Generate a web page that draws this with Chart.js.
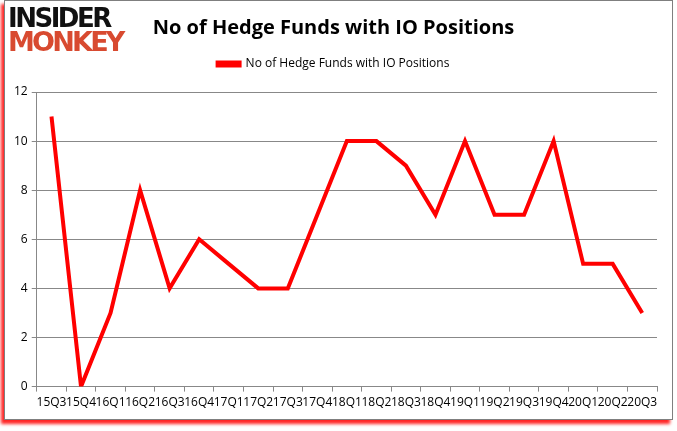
<!DOCTYPE html>
<html>
<head>
<meta charset="utf-8">
<script src="https://cdn.jsdelivr.net/npm/chart.js@4"></script>
<style>
    html, body { margin: 0; padding: 0; background: #fff; }
    #frame {
        position: absolute; left: 4px; top: 0; width: 667px; height: 418px;
        border: 1px solid #7f7f7f; box-shadow: -3px 4px 3px rgba(255, 0, 0, 0.85);
        background: #fff;
    }
    #wrap { position: absolute; left: 0; top: 0; width: 677px; height: 431px; }
    #logo {
        position: absolute; left: 8px; top: 6px; font-family: "DejaVu Sans";
        font-weight: bold; font-size: 27px; line-height: 24px;
    }
    #logo .a { color: #111; font-size: 26px; letter-spacing: -2.5px; }
    #logo .b { color: #d84a30; letter-spacing: -2.8px; }
</style>
</head>
<body>
<div id="frame"></div>
<div id="wrap"><canvas id="myChart" width="677" height="431"></canvas></div>
<div id="logo"><div class="a">INSIDER</div><div class="b">MONKEY</div></div>
<script>
// Quarters on the x axis
const quarters = ["15Q3", "15Q4", "16Q1", "16Q2", "16Q3", "16Q4", "17Q1", "17Q2", "17Q3", "17Q4",
    "18Q1", "18Q2", "18Q3", "18Q4", "19Q1", "19Q2", "19Q3", "19Q4", "20Q1", "20Q2", "20Q3"];

// Hedge fund counts per quarter
const fundCounts = [11, 0, 3, 8, 4, 6, 5, 4, 4, 7, 10, 10, 9, 7, 10, 7, 7, 10, 5, 5, 3];

const seriesName = "No of Hedge Funds with IO Positions";
const chartTitle = "No of Hedge Funds with IO Positions";

// Give the legend some extra room below it
const legendSpace = {
    id: "legendSpace",
    beforeInit(chart) {
        const fit = chart.legend.fit;
        chart.legend.fit = function () {
            fit.call(this);
            this.height += 12;
        };
    },
};

const ctx = document.getElementById("myChart").getContext("2d");

new Chart(ctx, {
    type: "line",
    data: {
        labels: quarters,
        datasets: [
            {
                label: seriesName,
                data: fundCounts,
                borderColor: "#ff0000",
                backgroundColor: "#ff0000",
                borderWidth: 4,
                pointRadius: 0,
                tension: 0,
            },
        ],
    },
    plugins: [legendSpace],
    options: {
        responsive: false,
        animation: false,
        layout: { padding: { left: 10, right: 20, top: 16, bottom: 17 } },
        plugins: {
            title: {
                display: true,
                text: chartTitle,
                color: "#000",
                font: { family: "Open Sans", size: 20, weight: "bold" },
                padding: { top: 0, bottom: 8 },
            },
            legend: {
                labels: {
                    color: "#000",
                    font: { family: "Open Sans", size: 12 },
                    boxWidth: 22,
                    boxHeight: 3,
                    padding: 10,
                },
            },
            tooltip: { enabled: false },
        },
        scales: {
            x: {
                offset: true,
                grid: { offset: true, drawOnChartArea: false, tickLength: 5, color: "#888" },
                border: { color: "#888" },
                ticks: {
                    color: "#000", maxRotation: 0, autoSkip: false,
                    font: { family: "Open Sans", size: 12 }, padding: 4,
                },
            },
            y: {
                min: 0,
                max: 12,
                ticks: { stepSize: 2, color: "#000", font: { family: "Open Sans", size: 12 }, padding: 4 },
                grid: { color: "#888", tickLength: 5 },
                border: { color: "#888" },
            },
        },
    },
});
</script>
</body>
</html>
